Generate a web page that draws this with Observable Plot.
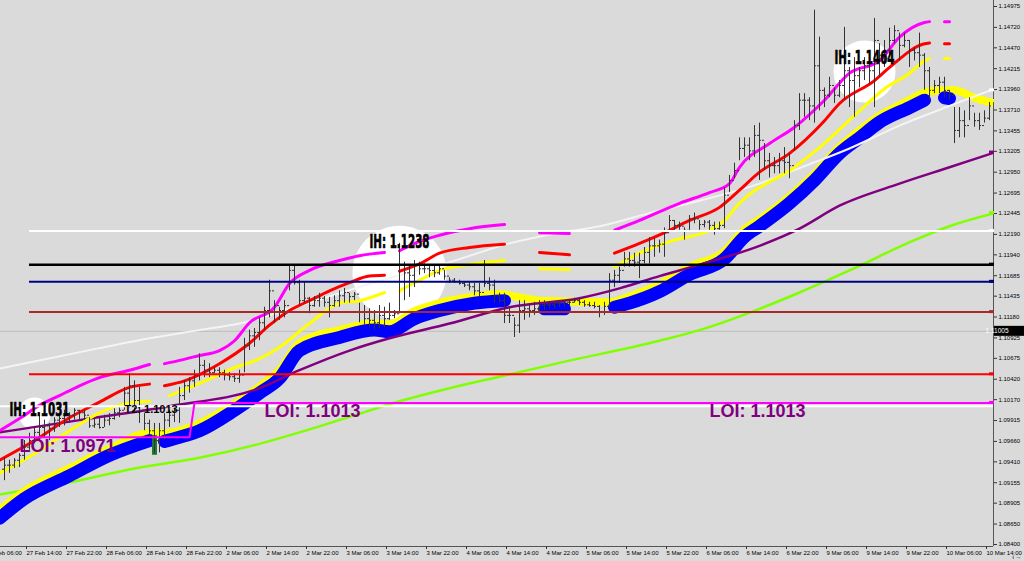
<!DOCTYPE html>
<html><head><meta charset="utf-8">
<script src="https://cdn.jsdelivr.net/npm/d3@7"></script>
<script src="https://cdn.jsdelivr.net/npm/@observablehq/plot@0.6"></script>
<style>
html,body{margin:0;padding:0;background:#dadada;}
#chart{width:1024px;height:561px;overflow:hidden;}
</style></head><body><div id="chart"></div>
<script>
// ---- H1 price bars (index 0..197), high / low / close ----
const barHigh = [
1.0946,1.0943,1.0945,1.0951,1.0967,1.0976,1.0983,1.1000,1.0992,1.0988,
1.0995,1.0998,1.1004,1.1001,1.1006,1.1004,1.1004,1.0995,1.0994,1.0994,
1.0998,1.1000,1.1006,1.1007,1.1032,1.1049,1.1040,1.1032,1.1000,1.0992,
1.0988,1.0988,1.1000,1.1004,1.1007,1.1032,1.1040,1.1044,1.1053,1.1073,
1.1065,1.1061,1.1056,1.1056,1.1053,1.1050,1.1049,1.1053,1.1092,1.1102,
1.1104,1.1117,1.1130,1.1163,1.1138,1.1130,1.1138,1.1181,1.1181,1.1163,
1.1160,1.1142,1.1143,1.1147,1.1143,1.1142,1.1144,1.1150,1.1153,1.1147,
1.1148,1.1135,1.1132,1.1128,1.1126,1.1132,1.1130,1.1135,1.1126,1.1208,
1.1185,1.1181,1.1187,1.1185,1.1183,1.1181,1.1180,1.1181,1.1175,1.1166,
1.1165,1.1163,1.1160,1.1160,1.1159,1.1159,1.1187,1.1166,1.1163,1.1147,
1.1147,1.1130,1.1117,1.1138,1.1138,1.1132,1.1136,1.1138,1.1138,1.1137,
1.1137,1.1137,1.1138,1.1138,1.1141,1.1141,1.1138,1.1136,1.1136,1.1132,
1.1136,1.1171,1.1175,1.1179,1.1197,1.1197,1.1196,1.1196,1.1203,1.1215,
1.1214,1.1212,1.1227,1.1242,1.1236,1.1234,1.1227,1.1242,1.1245,1.1236,
1.1236,1.1236,1.1234,1.1234,1.1276,1.1291,1.1306,1.1337,1.1337,1.1337,
1.1352,1.1355,1.1330,1.1318,1.1313,1.1318,1.1325,1.1318,1.1358,1.1391,
1.1391,1.1386,1.1493,1.1460,1.1398,1.1411,1.1398,1.1407,1.1472,1.1423,
1.1435,1.1423,1.1435,1.1428,1.1483,1.1452,1.1456,1.1471,1.1474,1.1465,
1.1465,1.1456,1.1447,1.1465,1.1440,1.1423,1.1407,1.1411,1.1411,1.1395,
1.1374,1.1374,1.1370,1.1386,1.1367,1.1367,1.1370,1.1383];
const barLow = [
1.0918,1.0927,1.0933,1.0934,1.0943,1.0955,1.0963,1.0967,1.0971,1.0967,
1.0977,1.0983,1.0985,1.0988,1.0992,1.0992,1.0992,1.0982,1.0982,1.0981,
1.0983,1.0985,1.0992,1.0995,1.1004,1.1007,1.1000,1.0988,1.0979,1.0971,
1.0951,1.0952,1.0967,1.0983,1.0989,1.0988,1.1016,1.1025,1.1032,1.1040,
1.1044,1.1044,1.1049,1.1044,1.1040,1.1040,1.1038,1.1037,1.1050,1.1077,
1.1081,1.1089,1.1102,1.1117,1.1110,1.1114,1.1117,1.1150,1.1157,1.1132,
1.1135,1.1122,1.1130,1.1130,1.1130,1.1117,1.1130,1.1130,1.1135,1.1135,
1.1138,1.1111,1.1108,1.1105,1.1102,1.1104,1.1105,1.1114,1.1116,1.1122,
1.1138,1.1142,1.1154,1.1169,1.1171,1.1166,1.1166,1.1169,1.1163,1.1159,
1.1159,1.1157,1.1154,1.1150,1.1144,1.1142,1.1154,1.1150,1.1135,1.1135,
1.1110,1.1110,1.1093,1.1098,1.1114,1.1117,1.1120,1.1122,1.1126,1.1128,
1.1128,1.1130,1.1130,1.1132,1.1135,1.1132,1.1130,1.1130,1.1128,1.1117,
1.1120,1.1130,1.1154,1.1159,1.1179,1.1179,1.1179,1.1165,1.1183,1.1183,
1.1191,1.1196,1.1191,1.1224,1.1224,1.1224,1.1212,1.1224,1.1232,1.1224,
1.1227,1.1224,1.1218,1.1224,1.1226,1.1270,1.1287,1.1309,1.1313,1.1309,
1.1313,1.1285,1.1297,1.1288,1.1293,1.1293,1.1293,1.1287,1.1321,1.1346,
1.1362,1.1358,1.1355,1.1370,1.1374,1.1386,1.1379,1.1386,1.1383,1.1374,
1.1362,1.1398,1.1407,1.1403,1.1374,1.1411,1.1423,1.1435,1.1452,1.1431,
1.1447,1.1423,1.1431,1.1423,1.1395,1.1383,1.1391,1.1391,1.1386,1.1383,
1.1330,1.1337,1.1337,1.1358,1.1350,1.1346,1.1355,1.1358];
const barClose = [
1.0937,1.0937,1.0943,1.0949,1.0959,1.0967,1.0977,1.0983,1.0985,1.0982,
1.0992,1.0994,1.1000,1.0998,1.1004,1.1001,1.0998,1.0985,1.0987,1.0983,
1.0992,1.0994,1.1001,1.1004,1.1025,1.1034,1.1016,1.1004,1.0988,1.0979,
1.0967,1.0979,1.0992,1.0998,1.1004,1.1022,1.1034,1.1040,1.1047,1.1059,
1.1053,1.1050,1.1053,1.1050,1.1047,1.1045,1.1043,1.1047,1.1083,1.1095,
1.1099,1.1111,1.1126,1.1150,1.1132,1.1126,1.1132,1.1175,1.1160,1.1138,
1.1141,1.1132,1.1138,1.1141,1.1136,1.1132,1.1138,1.1144,1.1148,1.1143,
1.1146,1.1124,1.1116,1.1114,1.1111,1.1120,1.1116,1.1120,1.1122,1.1181,
1.1172,1.1169,1.1181,1.1177,1.1177,1.1175,1.1172,1.1177,1.1168,1.1163,
1.1161,1.1159,1.1157,1.1155,1.1150,1.1148,1.1159,1.1157,1.1144,1.1138,
1.1120,1.1120,1.1108,1.1126,1.1128,1.1126,1.1128,1.1132,1.1133,1.1133,
1.1135,1.1135,1.1136,1.1136,1.1138,1.1136,1.1133,1.1132,1.1131,1.1124,
1.1131,1.1163,1.1169,1.1175,1.1189,1.1187,1.1185,1.1187,1.1197,1.1205,
1.1205,1.1207,1.1221,1.1236,1.1230,1.1229,1.1224,1.1238,1.1238,1.1231,
1.1234,1.1230,1.1226,1.1230,1.1267,1.1285,1.1297,1.1324,1.1328,1.1321,
1.1340,1.1334,1.1309,1.1303,1.1303,1.1309,1.1307,1.1303,1.1352,1.1383,
1.1383,1.1376,1.1425,1.1395,1.1389,1.1401,1.1389,1.1401,1.1419,1.1407,
1.1413,1.1419,1.1425,1.1419,1.1456,1.1438,1.1444,1.1456,1.1468,1.1450,
1.1456,1.1444,1.1441,1.1438,1.1419,1.1395,1.1401,1.1405,1.1395,1.1389,
1.1346,1.1358,1.1352,1.1376,1.1358,1.1352,1.1361,1.1376];

// ---- indicator lines: [bar index, price]; null = gap ----
const magentaMA = [
[-1,1.0979],[3,1.0994],[7,1.1010],[11,1.1022],[15,1.1034],[19,1.1044],[25,1.1053],[29,1.1060],[30,null],
[32,1.1061],[35,1.1065],[39,1.1071],[43,1.1077],[46,1.1089],[49,1.1111],[54,1.1130],[57,1.1159],[61,1.1175],[67,1.1187],[71,1.1193],[76,1.1197],[77,null],
[79,1.1199],[82,1.1208],[87,1.1218],[93,1.1226],[100,1.1231],[101,null],
[107,1.1221],[113,1.1220],[114,null],
[122,1.1224],[127,1.1236],[135,1.1257],[141,1.1270],[145,1.1281],[147,1.1301],[153,1.1330],[158,1.1350],[164,1.1383],[169,1.1416],[175,1.1431],[179,1.1460],[184,1.1478],[185,1.1479],[186,null],
[188,1.1479],[189,1.1479]];
const redMA = [
[-1,1.0943],[6,1.0967],[13,1.0995],[19,1.1014],[25,1.1032],[29,1.1036],[30,null],
[32,1.1034],[36,1.1040],[43,1.1061],[49,1.1086],[53,1.1108],[57,1.1126],[61,1.1138],[65,1.1150],[69,1.1160],[73,1.1168],[76,1.1169],[77,null],
[79,1.1174],[83,1.1183],[87,1.1196],[93,1.1203],[100,1.1207],[101,null],
[107,1.1197],[113,1.1194],[114,null],
[122,1.1196],[127,1.1208],[133,1.1224],[137,1.1236],[143,1.1252],[147,1.1273],[151,1.1295],[157,1.1318],[164,1.1358],[167,1.1379],[174,1.1407],[177,1.1423],[184,1.1452],[185,1.1453],[186,null],
[188,1.1452],[189,1.1452]];
const yellowMA = [
[-1,1.0927],[6,1.0951],[13,1.0979],[19,1.1001],[26,1.1014],[29,1.1015],[30,null],
[33,1.1022],[39,1.1037],[46,1.1056],[51,1.1067],[55,1.1081],[61,1.1110],[67,1.1135],[71,1.1138],[76,1.1148],[77,null],
[79,1.1150],[83,1.1163],[87,1.1175],[94,1.1183],[100,1.1187],[101,null],
[107,1.1177],[113,1.1176],[114,null],
[122,1.1179],[127,1.1196],[134,1.1212],[141,1.1224],[144,1.1236],[147,1.1257],[158,1.1301],[163,1.1325],[171,1.1370],[176,1.1397],[181,1.1416],[184,1.1431],[185,1.1434],[186,null],
[188,1.1434],[189,1.1434]];
const blueBand = [
[-1,1.0872],[4,1.0896],[13,1.0924],[21,1.0949],[29,1.0967],[30,null],
[32,1.0966],[35,1.0971],[39,1.0979],[46,1.1004],[51,1.1025],[55,1.1043],[59,1.1077],[67,1.1093],[74,1.1102],[77,1.1100],[82,1.1116],[87,1.1126],[94,1.1135],[100,1.1138],[101,null],
[108,1.1128],[112,1.1128],[113,null],
[122,1.1130],[125,1.1135],[131,1.1149],[137,1.1170],[144,1.1189],[148,1.1216],[151,1.1229],[157,1.1257],[162,1.1285],[167,1.1318],[171,1.1337],[175,1.1356],[181,1.1374],[184,1.1383],[185,null],
[188,1.1386],[189,1.1385]];
const yellowBand = [
[-1,1.0882],[4,1.0905],[13,1.0933],[21,1.0957],[29,1.0976],[32,1.0976],[35,1.0979],[39,1.0988],[46,1.1012],[51,1.1033],[55,1.1053],[59,1.1086],[67,1.1102],[74,1.1110],[77,1.1109],[82,1.1125],[87,1.1135],[94,1.1143],[99,1.1146],[103,1.1142],[107,1.1138],[113,1.1137],[121,1.1136],[125,1.1143],[131,1.1158],[137,1.1179],[144,1.1198],[148,1.1225],[151,1.1237],[157,1.1265],[162,1.1293],[167,1.1326],[171,1.1346],[175,1.1364],[181,1.1383],[185,1.1394],[190,1.1395],[194,1.1386],[198,1.1379]];
const whiteMA = [[-1,1.1055],[19,1.1080],[29,1.1092],[39,1.1102],[47,1.1110],[59,1.1132],[79,1.1169],[89,1.1185],[101,1.1208],[111,1.1221],[119,1.1229],[129,1.1245],[139,1.1260],[151,1.1281],[159,1.1300],[169,1.1324],[179,1.1352],[189,1.1376],[198,1.1397]];
const purpleMA = [[-1,1.0977],[15,1.0992],[33,1.1009],[51,1.1031],[59,1.1053],[69,1.1077],[77,1.1092],[89,1.1110],[101,1.1130],[115,1.1141],[123,1.1153],[131,1.1168],[139,1.1182],[151,1.1205],[159,1.1226],[167,1.1254],[179,1.1281],[189,1.1301],[198,1.1319]];
const greenMA = [[-1,1.0901],[13,1.0916],[26,1.0933],[39,1.0946],[51,1.0963],[59,1.0977],[69,1.0996],[79,1.1015],[89,1.1031],[99,1.1045],[111,1.1062],[131,1.1089],[139,1.1102],[151,1.1128],[159,1.1148],[169,1.1175],[182,1.1212],[189,1.1229],[198,1.1245]];

// ---- horizontal levels ----
const levelStart = 5;
const levelWhite = 1.1223, levelBlack = 1.1182, levelNavy = 1.1161, levelBrown = 1.1124, levelRed = 1.1048;
const lineT2 = 1.1009;
const loiLine = [[-1,1.0971],[37,1.0971],[38,1.1013],[198,1.1013]];
const currentPrice = 1.11005;
const signalBar = {i: 30, top: 1.0973, bottom: 1.0949};

// ---- annotations ----
const ihLabels = [{label:"IH: 1.1031", i:1, price:1.1004},{label:"IH: 1.1238", i:73, price:1.1210},{label:"IH: 1.1464", i:166, price:1.1435}];
const ihCircleA = {i:6, price:1.1000}, ihCircleB = {i:79, price:1.1172}, ihCircleC = {i:172, price:1.1418};
const t2Labels = [{label:"T2: 1.1013", i:24, price:1.1005}];
const loiLabels = [{label:"LOI: 1.0971", i:3, price:1.0960},{label:"LOI: 1.1013", i:52, price:1.1003},{label:"LOI: 1.1013", i:141, price:1.1003}];

// ---- axes ----
const yTicks = [1.14975,1.14720,1.14470,1.14215,1.13960,1.13710,1.13455,1.13205,1.12950,1.12695,1.12445,1.12190,1.11940,1.11685,1.11435,1.11180,1.10925,1.10675,1.10420,1.10170,1.09915,1.09660,1.09410,1.09155,1.08905,1.08650,1.08400];
const xTickIndex = [-4,4,12,20,28,36,44,52,60,68,76,84,92,100,108,116,124,132,140,148,156,164,172,180,188,196];
const xTickLabels = ["27 Feb 06:00","27 Feb 14:00","27 Feb 22:00","28 Feb 06:00","28 Feb 14:00","28 Feb 22:00","2 Mar 06:00","2 Mar 14:00","2 Mar 22:00","3 Mar 06:00","3 Mar 14:00","3 Mar 22:00","4 Mar 06:00","4 Mar 14:00","4 Mar 22:00","5 Mar 06:00","5 Mar 14:00","5 Mar 22:00","6 Mar 06:00","6 Mar 14:00","6 Mar 22:00","9 Mar 06:00","9 Mar 14:00","9 Mar 22:00","10 Mar 06:00","10 Mar 14:00"];
const axisStubs = [[1.1395,"#ffffff"],[1.1382,"#ffff00"],[1.1319,"#800080"],[1.1245,"#80ff00"],[1.1223,"#ffffff"],[1.1182,"#000000"],[1.1161,"#000080"],[1.1124,"#a52a2a"],[1.1048,"#ff0000"],[1.1013,"#ff00ff"]];

const xDomain = [-0.8, 197.8];
const yDomain = [1.083756, 1.150483];

const bars = barHigh.map((h, i) => ({i, high: h, low: barLow[i], close: barClose[i], open: i ? barClose[i-1] : (h + barLow[i]) / 2}));
const xLabel = new Map(xTickIndex.map((d, k) => [d, xTickLabels[k]]));
const P = {x: d => d[0], y: d => d[1], curve: "monotone-x", clip: true, strokeLinecap: "round", strokeLinejoin: "round"};
const HEAVY = '"DejaVu Sans","Liberation Sans",sans-serif';
const SANS = '"Liberation Sans",Arial,sans-serif';

const plot = Plot.plot({
  width: 1024, height: 561,
  marginLeft: 0, marginRight: 31, marginTop: 0, marginBottom: 15,
  style: {background: "#dadada", fontFamily: SANS, fontSize: "6px", color: "#000", overflow: "hidden"},
  x: {domain: xDomain, axis: null},
  y: {domain: yDomain, axis: null},
  marks: [
    Plot.dot([ihCircleA], {x: "i", y: "price", r: 16, fill: "#ffffff", stroke: "none"}),
    Plot.dot([ihCircleB], {x: "i", y: "price", r: 47, fill: "#ffffff", stroke: "none"}),
    Plot.dot([ihCircleC], {x: "i", y: "price", r: 31, fill: "#ffffff", stroke: "none"}),
    Plot.ruleY([currentPrice], {stroke: "#bdbdbd", strokeWidth: 1}),
    Plot.line(greenMA, {...P, stroke: "#80ff00", strokeWidth: 2.5}),
    Plot.line(yellowBand, {...P, stroke: "#ffff00", strokeWidth: 8}),
    Plot.line(blueBand, {...P, stroke: "#0000ff", strokeWidth: 13}),
    Plot.line(purpleMA, {...P, stroke: "#800080", strokeWidth: 2.5}),
    Plot.line(whiteMA, {...P, stroke: "#f4f4f4", strokeWidth: 2}),
    Plot.line(magentaMA, {...P, stroke: "#ff00ff", strokeWidth: 3}),
    Plot.line(redMA, {...P, stroke: "#ff0000", strokeWidth: 3}),
    Plot.line(yellowMA, {...P, stroke: "#ffff00", strokeWidth: 3}),
    Plot.ruleX([signalBar], {x: "i", y1: "bottom", y2: "top", stroke: "#1e7a30", strokeWidth: 5}),
    Plot.ruleX(bars, {x: "i", y1: "low", y2: "high", stroke: "#333", strokeWidth: 1}),
    Plot.ruleY(bars, {y: "open", x1: d => d.i - 0.4, x2: "i", stroke: "#333", strokeWidth: 1}),
    Plot.ruleY(bars, {y: "close", x1: "i", x2: d => d.i + 0.4, stroke: "#333", strokeWidth: 1}),
    Plot.ruleY([lineT2], {stroke: "#ffffff", strokeWidth: 2}),
    Plot.line(loiLine, {x: d => d[0], y: d => d[1], stroke: "#ff00ff", strokeWidth: 2, clip: true}),
    Plot.ruleY([levelWhite], {x1: levelStart, x2: xDomain[1], stroke: "#ffffff", strokeWidth: 2}),
    Plot.ruleY([levelBlack], {x1: levelStart, x2: xDomain[1], stroke: "#000000", strokeWidth: 2.5}),
    Plot.ruleY([levelNavy], {x1: levelStart, x2: xDomain[1], stroke: "#000080", strokeWidth: 2}),
    Plot.ruleY([levelBrown], {x1: levelStart, x2: xDomain[1], stroke: "#a52a2a", strokeWidth: 2}),
    Plot.ruleY([levelRed], {x1: levelStart, x2: xDomain[1], stroke: "#ff0000", strokeWidth: 2}),
    Plot.text(ihLabels, {x: "i", y: "price", text: "label", textAnchor: "start", fontFamily: HEAVY, fontWeight: "bold", fontSize: 19, fill: "#000", stroke: "#000", strokeWidth: 0.7}),
    Plot.text(t2Labels, {x: "i", y: "price", text: "label", textAnchor: "start", fontFamily: SANS, fontWeight: "bold", fontSize: 11, fill: "#000"}),
    Plot.text(loiLabels, {x: "i", y: "price", text: "label", textAnchor: "start", fontFamily: SANS, fontWeight: "bold", fontSize: 18, fill: "#800080"}),
    Plot.ruleX([xDomain[1]], {stroke: "#555", strokeWidth: 1}),
    Plot.ruleY([yDomain[0]], {stroke: "#555", strokeWidth: 1}),
    Plot.axisY(yTicks, {anchor: "right", tickSize: 3, tickPadding: 2, tickFormat: d => d.toFixed(5), fontSize: 6, fontFamily: SANS, stroke: "#333"}),
    Plot.axisX(xTickIndex, {anchor: "bottom", tickSize: 3, tickPadding: 1, tickFormat: d => xLabel.get(d), textAnchor: "start", dx: 2, fontSize: 6, fontFamily: SANS, stroke: "#333"})
  ]
});

document.getElementById("chart").appendChild(plot);

const svg = d3.select(plot);
// condensed look of the IH labels
svg.selectAll("text").filter(function () { return /^IH:/.test(this.textContent); })
  .attr("textLength", 60).attr("lengthAdjust", "spacingAndGlyphs");

// price label box and axis stubs, placed with Plot's own scales
const xs = plot.scale("x"), ys = plot.scale("y");
const right = xs.apply(xDomain[1]);
const g = svg.append("g");
axisStubs.forEach(([p, c]) => {
  g.append("rect").attr("x", right - 4).attr("y", ys.apply(p) - 1.5).attr("width", 5).attr("height", 3).attr("fill", c);
});
const cy = ys.apply(currentPrice);
g.append("rect").attr("x", right + 1).attr("y", cy - 5).attr("width", 30).attr("height", 10).attr("fill", "#000");
g.append("text").attr("x", right + 4).attr("y", cy).attr("dy", "0.35em").attr("fill", "#fff")
  .attr("font-size", 6.5).attr("font-family", "Liberation Sans, Arial, sans-serif").text(currentPrice.toFixed(5));
</script>
</body></html>
